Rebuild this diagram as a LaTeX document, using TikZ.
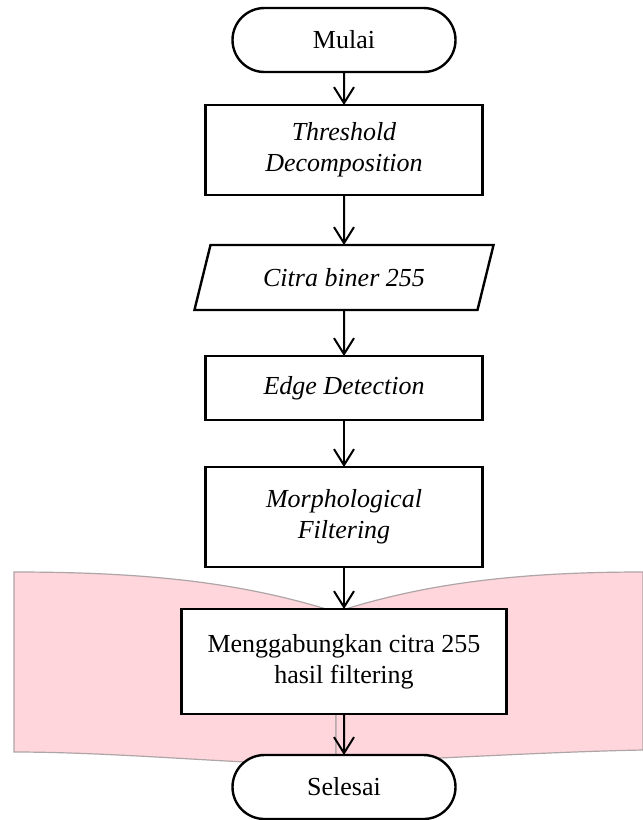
\documentclass[tikz,border=0pt]{standalone}
\usepackage{fontspec}
\setmainfont{Liberation Serif}
\usetikzlibrary{positioning, shapes.misc, shapes.geometric, arrows.meta}
\definecolor{merahmuda}{RGB}{255,214,219}
\definecolor{garispink}{RGB}{175,165,167}

\begin{document}
\begin{tikzpicture}[x=0.5pt, y=-0.5pt,
    font=\fontsize{13}{15.5}\selectfont,
    terminal/.style={rounded rectangle, draw, line width=1.2pt, fill=white,
        minimum width=111.5pt, minimum height=32pt, inner sep=0pt, outer sep=0pt},
    proses/.style={rectangle, draw, line width=1.2pt, fill=white,
        minimum width=138.5pt, align=center, inner sep=0pt, outer sep=0pt},
    data/.style={trapezium, trapezium left angle=62, trapezium right angle=118,
        trapezium stretches=true, draw, line width=1.2pt, fill=white,
        minimum width=150pt, minimum height=32.5pt, inner sep=0pt, outer sep=0pt},
    miring/.style={font=\fontsize{13}{15.5}\selectfont\itshape},
    panah/.style={-{Straight Barb[length=8pt,width=10pt]}, line width=1pt}]

    \useasboundingbox (0,0) rectangle (643,820);

    % Latar merah muda
    \filldraw[fill=merahmuda, draw=garispink, line width=0.6pt]
        (14,572) .. controls (160,572) and (250,585) .. (336,612)
        -- (336,765) .. controls (250,765) and (120,752) .. (14,752) -- cycle;
    \filldraw[fill=merahmuda, draw=garispink, line width=0.6pt]
        (336,612) .. controls (420,585) and (510,572) .. (643,572)
        -- (643,750) .. controls (540,752) and (420,760) .. (336,762) -- cycle;

    % Langkah-langkah
    \node[terminal] (mulai) at (344,40) {Mulai};
    \node[proses, miring, minimum height=45pt, below=16.5pt of mulai] (threshold) {Threshold\\Decomposition};
    \node[data, miring, below=25pt of threshold] (citra) {Citra biner 255};
    \node[proses, miring, minimum height=32pt, below=23pt of citra] (edge) {Edge Detection};
    \node[proses, miring, minimum height=50pt, below=23.5pt of edge] (morph) {Morphological\\Filtering};
    \node[proses, minimum width=162.5pt, minimum height=52.5pt, below=21pt of morph] (gabung) {Menggabungkan citra 255\\hasil filtering};
    \node[terminal, below=20.5pt of gabung] (selesai) {Selesai};

    % Alur
    \draw[panah] (mulai) -- (threshold);
    \draw[panah] (threshold) -- (citra);
    \draw[panah] (citra) -- (edge);
    \draw[panah] (edge) -- (morph);
    \draw[panah] (morph) -- (gabung);
    \draw[panah] (gabung) -- (selesai);

\end{tikzpicture}
\end{document}
